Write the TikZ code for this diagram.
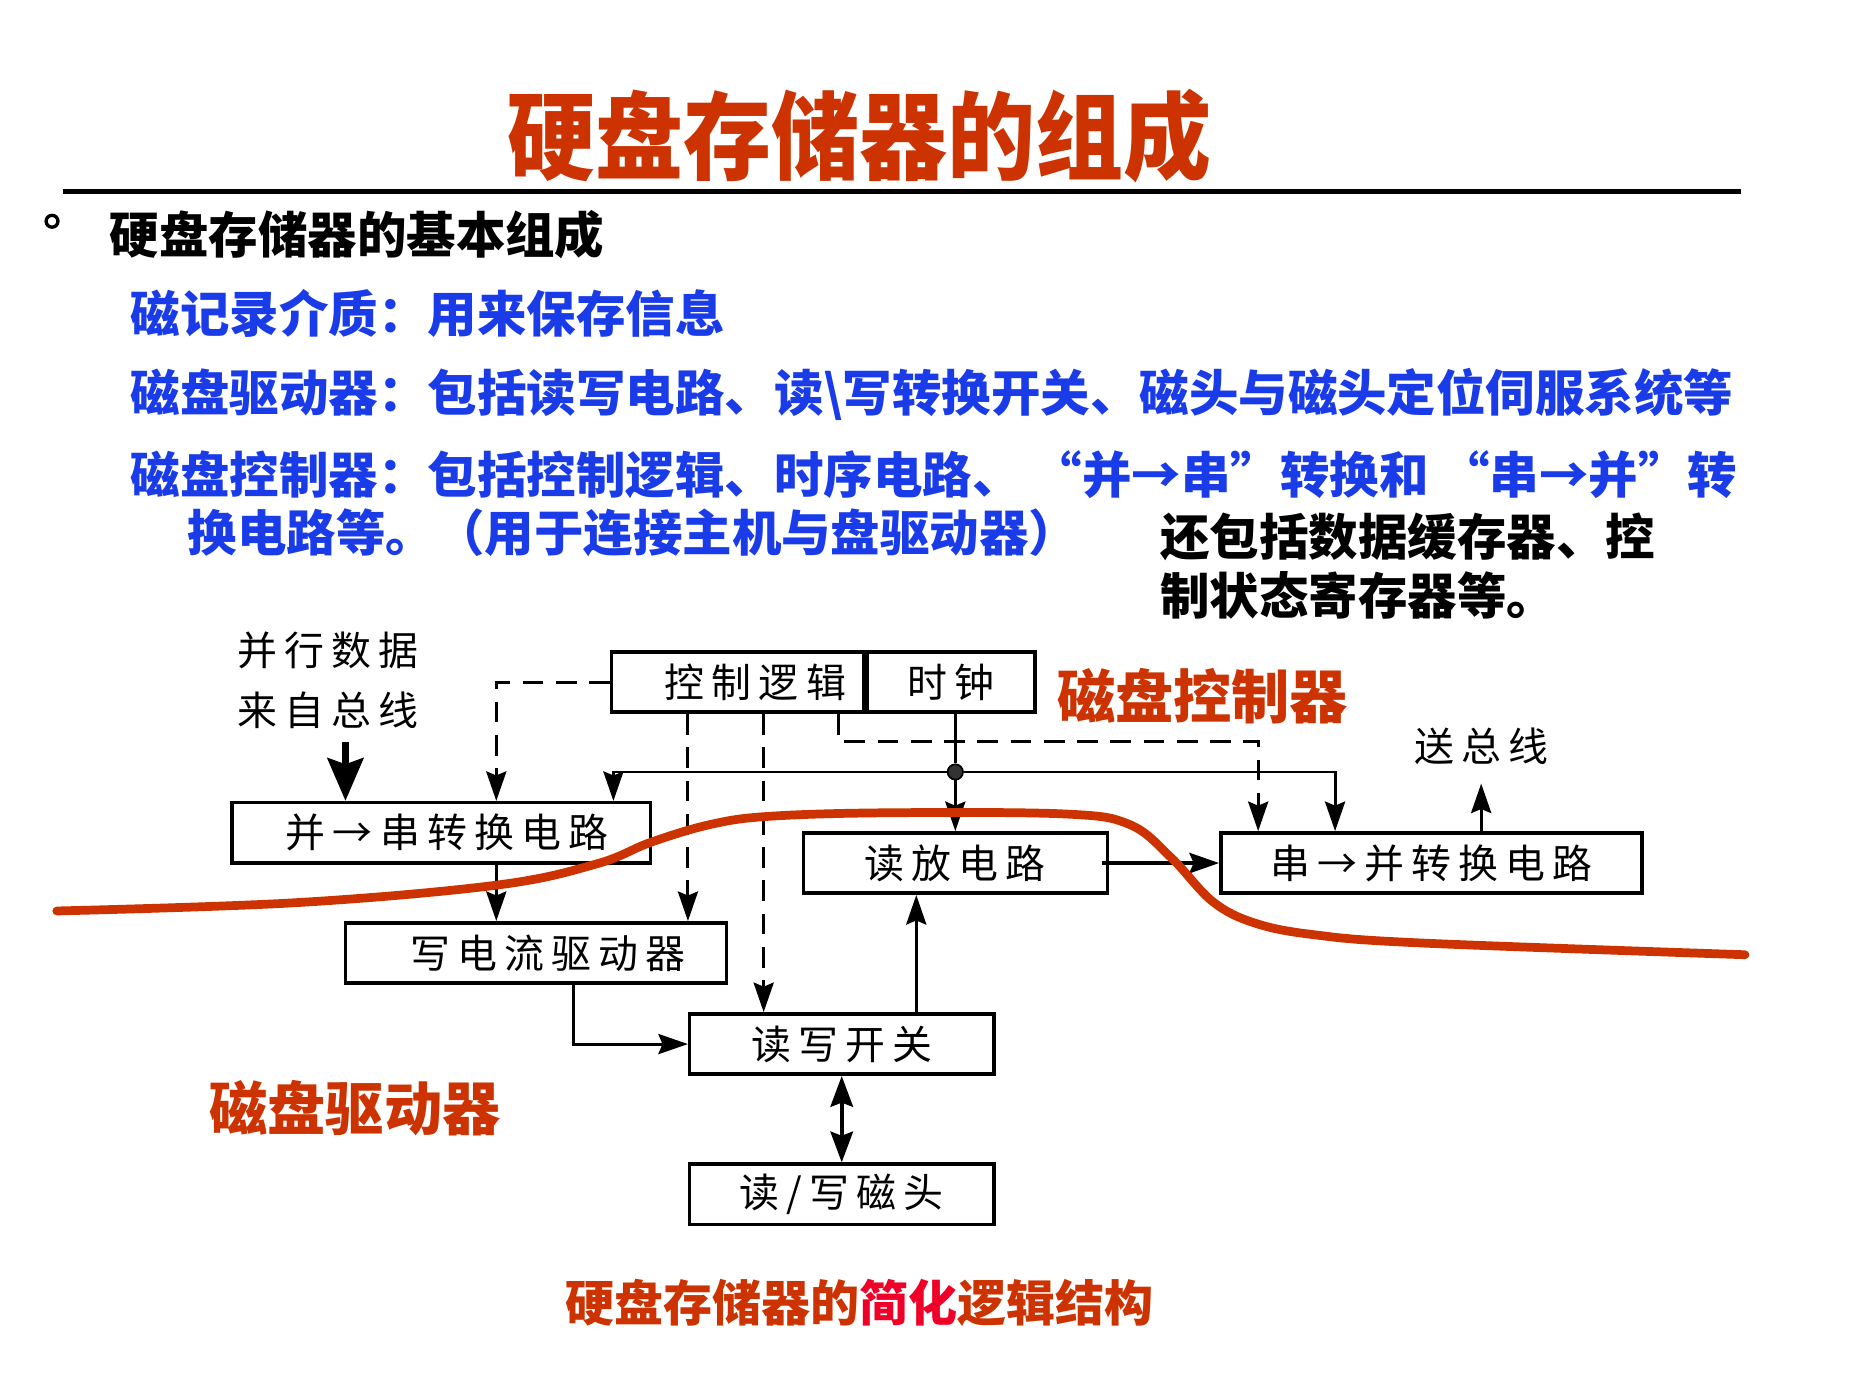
\documentclass[tikz,border=0pt]{standalone}
\usepackage{fontspec}
\setmainfont{Noto Sans CJK SC}
\usepackage{xcolor}
\definecolor{disqueRouge}{HTML}{CC3300}
\definecolor{disqueRougeVif}{HTML}{F00028}
\definecolor{disqueBleu}{HTML}{1A3CE8}
\definecolor{disqueGrisPoint}{HTML}{333333}
\usepackage{tikz}
\usetikzlibrary{arrows.meta, positioning, calc}
\newcommand{\Espace}{\addfontfeature{LetterSpace=18}}
\tikzset{
  %% ── Boites ───────────────────────────────────────────────────────────
  boite/.style        = {draw=black, line width=0.85pt, minimum height=0.51cm,
                         inner sep=0pt, font=\fontsize{9.6}{10}\selectfont\Espace},
  point/.style        = {circle, fill=disqueGrisPoint, draw=black, line width=0.4pt,
                         minimum size=1.3mm, inner sep=0pt},
  %%
  %% ── Fleches ──────────────────────────────────────────────────────────
  fleche/.style       = {-{Stealth[length=2.5mm, width=1.7mm, inset=0.35mm]},
                         draw=black, line width=0.7pt},
  flecheDouble/.style = {{Stealth[length=2.6mm, width=1.9mm, inset=0.35mm]}-{Stealth[length=2.6mm, width=1.9mm, inset=0.35mm]},
                         draw=black, line width=0.9pt},
  flecheTiret/.style  = {fleche, dash pattern=on 5pt off 3pt},
  flecheGrasse/.style = {-{Stealth[length=3.6mm, width=3mm, inset=0.5mm]},
                         draw=black, line width=1.9pt},
  courbe/.style       = {draw=disqueRouge, line width=2.1pt, line cap=round},
  %%
  %% ── Textes ───────────────────────────────────────────────────────────
  etiquette/.style    = {inner sep=0pt, align=center,
                         font=\fontsize{9.6}{14.5}\selectfont\Espace},
  titre/.style        = {inner sep=0pt, text=disqueRouge, xscale=0.92, transform shape,
                         font=\fontsize{23}{28}\selectfont\bfseries},
  ligneNoire/.style   = {inner sep=0pt, anchor=west, align=left,
                         font=\fontsize{11.9}{14.2}\selectfont\bfseries},
  ligneBleue/.style   = {ligneNoire, text=disqueBleu},
  titreRouge/.style   = {inner sep=0pt, text=disqueRouge,
                         font=\fontsize{14}{16}\selectfont\bfseries},
}

\begin{document}
\begin{tikzpicture}[x=1cm, y=1cm]
\useasboundingbox (0,0) rectangle (15.68,-11.82);

%% En-tete et texte de la diapositive.
\node[titre] (titre) at (7.265,-1.15) {硬盘存储器的组成};
\draw[line width=1.2pt] (0.53,-1.62) -- (14.72,-1.62);
\node[circle, draw, line width=0.8pt, minimum size=1mm, inner sep=0pt] (puce) at (0.44,-1.87) {};
\node[ligneNoire] (rubrique) at (0.92,-1.98) {硬盘存储器的基本组成};
\node[ligneBleue] (support) at (1.10,-2.65) {磁记录介质：用来保存信息};
\node[ligneBleue] (lecteur) at (1.10,-3.33)
     {磁盘驱动器：包括读写电路、读\textbackslash 写转换开关、磁头与磁头定位伺服系统等};
\node[ligneBleue] (ctrlA) at (1.10,-4.01)
     {磁盘控制器：包括控制逻辑、时序电路、 “并→串”转换和 “串→并”转};
\node[ligneBleue] (ctrlB) at (1.58,-4.50) {换电路等。（用于连接主机与盘驱动器）};
\node[ligneNoire, anchor=north west] (note) at (9.80,-4.33)
     {还包括数据缓存器、控\\制状态寄存器等。};

%% Les blocs du schema.
\node[boite, minimum width=3.54cm] (ps) at (3.73,-7.04) {\hspace*{1mm}并→串转换电路};
\node[boite, minimum width=2.13cm] (ctl) at (6.235,-5.765) {\hspace*{3mm}控制逻辑};
\node[boite, minimum width=1.42cm, right=0pt of ctl] (clk) {时钟};
\node[boite, minimum width=2.57cm] (lec) at (8.075,-7.295) {读放电路};
\node[boite, minimum width=3.56cm] (sp) at (12.10,-7.295) {串→并转换电路};
\node[boite, minimum width=3.22cm] (ecr) at (4.53,-8.055) {\hspace*{2mm}写电流驱动器};
\node[boite, minimum width=2.57cm] (rw) at (7.115,-8.825) {读写开关};
\node[boite, minimum width=2.57cm] (tete) at (7.115,-10.095) {读/写磁头};

\node[etiquette] (src) at (2.77,-5.75) {并行数据\\来自总线};
\node[etiquette] (bus) at (12.52,-6.31) {送总线};
\node[titreRouge] (nomCtl) at (10.165,-5.88) {磁盘控制器};
\node[titreRouge] (nomDrv) at (3.00,-9.37) {磁盘驱动器};

%% Liaisons de commande (tirets) depuis la logique de controle.
\draw[flecheTiret] (ctl.west) -| ($(ps.north west)+(2.25,0)$);
\coordinate (c1) at ($(ctl.south west)+(0.66,0)$);
\coordinate (c2) at ($(ctl.south west)+(1.30,0)$);
\coordinate (c3) at ($(ctl.south west)+(1.93,0)$);
\draw[flecheTiret] (c1) -- (c1 |- ecr.north);
\draw[flecheTiret] (c2) -- (c2 |- rw.north);
\draw[flecheTiret] (c3) |- ($(sp.north west)+(0.33,0.76)$)
                         -- ($(sp.north west)+(0.33,0)$);

%% Horloge distribuee.
\node[point] (jct) at ($(lec.north)+(0,0.50)$) {};
\draw[line width=0.7pt] (clk.south -| lec.north) -- (jct);
\draw[fleche] (jct) -- (lec.north);
\draw[fleche] (jct) -| ($(ps.north east)+(-0.33,0)$);
\draw[fleche] (jct) -| ($(sp.north west)+(0.98,0)$);

%% Chemin des donnees.
\draw[flecheGrasse] ([xshift=1.5mm, yshift=-1mm]src.south) -- ([xshift=1.5mm]src.south |- ps.north);
\draw[fleche] ($(ps.south west)+(2.25,0)$) coordinate (c4) -- (c4 |- ecr.north);
\draw[fleche] ($(ecr.south west)+(1.94,0)$) |- (rw.west);
\draw[fleche] ($(rw.north west)+(1.93,0)$) coordinate (c5) -- (c5 |- lec.south);
\draw[flecheDouble] (rw.south) -- (tete.north);
\draw[fleche, line width=1.1pt] ([xshift=-0.6mm]lec.east) -- (sp.east -| sp.west);
\draw[fleche] (bus.south |- sp.north) -- ([yshift=-1.5mm]bus.south);

%% Frontiere entre controleur et lecteur.
\draw[courbe] plot[smooth, tension=0.6] coordinates {
  (0.48,-7.70) (2.50,-7.63) (4.21,-7.48) (5.05,-7.30) (5.50,-7.12)
  (6.00,-6.97) (6.50,-6.90) (7.50,-6.87) (9.00,-6.88) (9.55,-6.97)
  (9.90,-7.25) (10.25,-7.62) (10.60,-7.80) (11.10,-7.90) (12.00,-7.97)
  (14.75,-8.07)};

\node[inner sep=0pt, font=\fontsize{11.8}{14}\selectfont\bfseries, text=disqueRouge] (legende) at (7.265,-11.01)
     {硬盘存储器的\textcolor{disqueRougeVif}{简化}逻辑结构};

\end{tikzpicture}
\end{document}
